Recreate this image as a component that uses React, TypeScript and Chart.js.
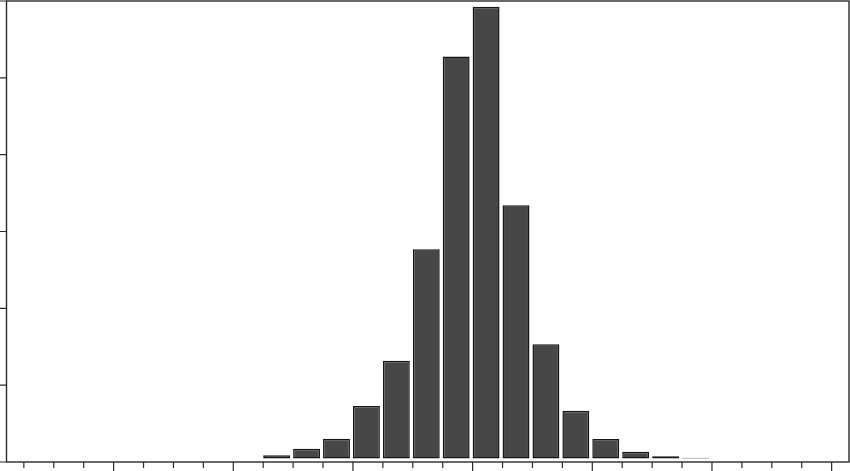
import React, { useEffect, useRef } from "react";
import { Chart, registerables } from "chart.js";

Chart.register(...registerables);

// Histogram bins (left edges) and bar heights
const binEdges = [-7, -6, -5, -4, -3, -2, -1, 0, 1, 2, 3, 4, 5, 6, 7];
const counts = [0.087, 0.173, 0.303, 0.729, 1.318, 2.768, 5.278, 5.926, 3.341, 1.532, 0.668, 0.299, 0.134, 0.074, 0.056];
const barBase = 0.045;
const relWidth = 0.9;

// Axis ranges and tick values
const xRange = [-15.58, 12.58];
const yRange = [0, 6];
const xMajorTicks = [-12, -8, -4, 0, 4, 8, 12];
const xMinorTicks = [-15, -14, -13, -11, -10, -9, -7, -6, -5, -3, -2, -1, 1, 2, 3, 5, 6, 7, 9, 10, 11];
const yTicks = [0, 1, 2, 3, 4, 5, 6];

const framePlugin = {
  id: "frame",
  afterDraw(chart: any) {
    const ctx = chart.ctx;
    const { left, right, top, bottom } = chart.chartArea;
    const xs = chart.scales.x;
    const ys = chart.scales.y;
    ctx.save();
    ctx.strokeStyle = "#2a2a2a";
    ctx.lineWidth = 1.4;
    ctx.strokeRect(left, top, right - left, bottom - top);
    ctx.lineWidth = 1.2;
    ctx.beginPath();
    for (const v of xMinorTicks) {
      const px = xs.getPixelForValue(v);
      ctx.moveTo(px, bottom);
      ctx.lineTo(px, bottom + 6);
    }
    for (const v of xMajorTicks) {
      const px = xs.getPixelForValue(v);
      ctx.moveTo(px, bottom);
      ctx.lineTo(px, bottom + 9);
    }
    for (const v of yTicks) {
      const py = ys.getPixelForValue(v);
      ctx.moveTo(left - 9, py);
      ctx.lineTo(left, py);
    }
    ctx.stroke();
    ctx.restore();
  },
};

export default function App() {
  const ref = useRef<HTMLCanvasElement | null>(null);
  useEffect(() => {
    document.body.style.margin = "0";
    if (!ref.current) return;
    const data = binEdges.map((e, i) => ({ x: e + relWidth / 2, y: counts[i] }));
    const chart = new Chart(ref.current, {
      type: "bar",
      data: {
        datasets: [
          {
            data: data as any,
            base: barBase,
            backgroundColor: "#474747",
            borderColor: "#161616",
            borderWidth: 1.5,
            borderSkipped: false,
            barPercentage: relWidth,
            categoryPercentage: 1,
          } as any,
        ],
      },
      options: {
        animation: false,
        responsive: false,
        maintainAspectRatio: false,
        layout: { padding: { left: 6.5, right: 1, top: 1, bottom: 9 } },
        plugins: { legend: { display: false }, tooltip: { enabled: false } },
        scales: {
          x: { type: "linear", display: false, offset: false, min: xRange[0], max: xRange[1] },
          y: { type: "linear", display: false, min: yRange[0], max: yRange[1] },
        },
      },
      plugins: [framePlugin],
    });
    return () => chart.destroy();
  }, []);
  return (
    <div style={{ width: 850, height: 471 }}>
      <canvas ref={ref} width={850} height={471} style={{ display: "block" }} />
    </div>
  );
}
